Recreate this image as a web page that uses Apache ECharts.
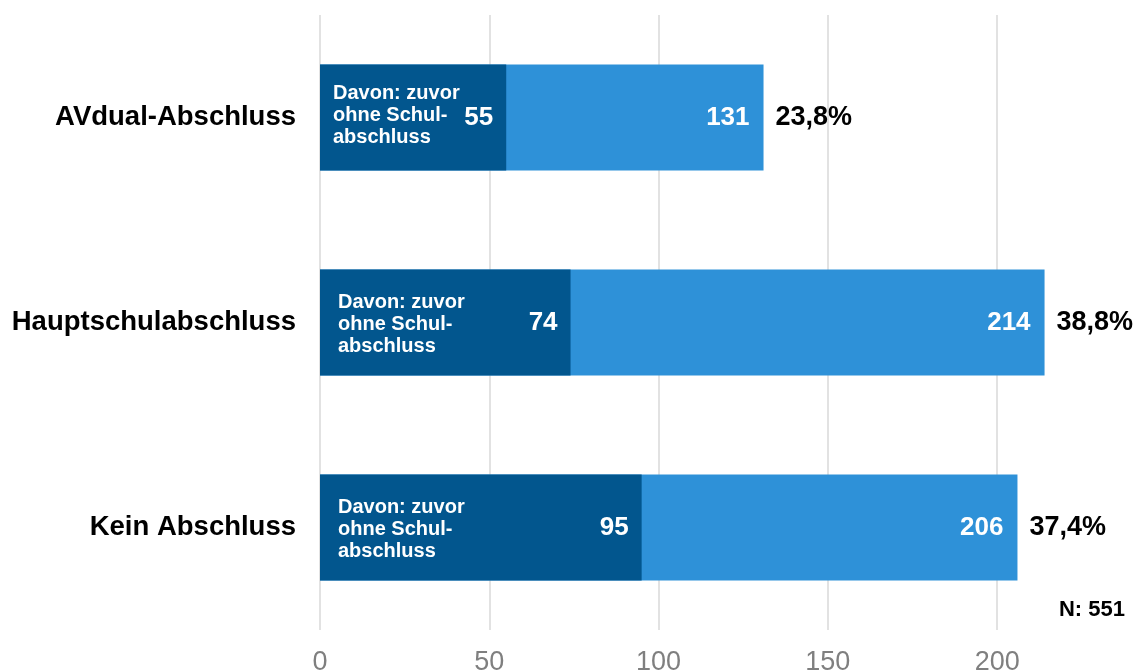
<!DOCTYPE html>
<html><head><meta charset="utf-8">
<script src="https://cdn.jsdelivr.net/npm/echarts@6/dist/echarts.min.js"></script>
<style>html,body{margin:0;padding:0;background:#fff}#c{width:1134px;height:671px}</style>
</head><body><div id="c"></div>
<script>
const categories = ['Kein Abschluss', 'Hauptschulabschluss', 'AVdual-Abschluss'];
const totalValues = [206, 214, 131];
const noSchoolValues = [95, 74, 55];
const percentLabels = ['37,4%', '38,8%', '23,8%'];
const xTicks = [0, 50, 100, 150, 200];
const innerNote = 'Davon: zuvor\nohne Schul-\nabschluss';
const nText = 'N: 551';

const font = '"Liberation Sans", Arial, sans-serif';
const chart = echarts.init(document.getElementById('c'));
chart.setOption({
  animation: false,
  grid: { left: 320, right: -4, top: 15, bottom: 41, containLabel: false, outerBoundsMode: 'none' },
  xAxis: {
    type: 'value', min: 0, max: 241.6, interval: 50,
    axisLine: { show: false }, axisTick: { show: false },
    splitLine: { lineStyle: { color: '#d9d9d9', width: 1.5 } },
    axisLabel: {
      fontFamily: font, fontSize: 27, color: '#7f7f7f', margin: 19,
      showMaxLabel: false,
      formatter: v => xTicks.includes(v) ? String(v) : ''
    }
  },
  yAxis: {
    type: 'category', data: categories,
    axisLine: { show: false }, axisTick: { show: false },
    axisLabel: { fontFamily: font, fontSize: 27.5, fontWeight: 'bold', color: '#000', margin: 24 }
  },
  series: [
    {
      type: 'bar', data: totalValues, barWidth: 106, barGap: '-100%',
      itemStyle: { color: '#2e91d8' },
      label: { show: true, position: 'insideRight', distance: 14, fontFamily: font, fontSize: 26, fontWeight: 'bold', color: '#fff' }
    },
    {
      type: 'bar', data: noSchoolValues, barWidth: 106, barGap: '-100%',
      itemStyle: { color: '#02568e' },
      label: { show: true, position: 'insideRight', distance: 13, fontFamily: font, fontSize: 26, fontWeight: 'bold', color: '#fff' }
    },
    {
      type: 'bar', barWidth: 106, barGap: '-100%', silent: true,
      itemStyle: { color: 'transparent' },
      data: noSchoolValues.map((v, i) => ({
        value: v,
        label: { distance: i === 2 ? 13 : 18, offset: [0, i === 2 ? -2 : 2] }
      })),
      label: { show: true, position: 'insideLeft', formatter: innerNote, fontFamily: font, fontSize: 20, fontWeight: 'bold', color: '#fff', lineHeight: 22, align: 'left' }
    },
    {
      type: 'bar', barWidth: 106, barGap: '-100%', silent: true,
      itemStyle: { color: 'transparent' },
      data: totalValues,
      label: { show: true, position: 'right', distance: 12, fontFamily: font, fontSize: 27, fontWeight: 'bold', color: '#000',
        formatter: p => percentLabels[p.dataIndex] }
    }
  ],
  graphic: [{
    type: 'text', right: 9, top: 599,
    style: { text: nText, font: 'bold 22px ' + font, fill: '#000' }
  }]
});
</script></body></html>
